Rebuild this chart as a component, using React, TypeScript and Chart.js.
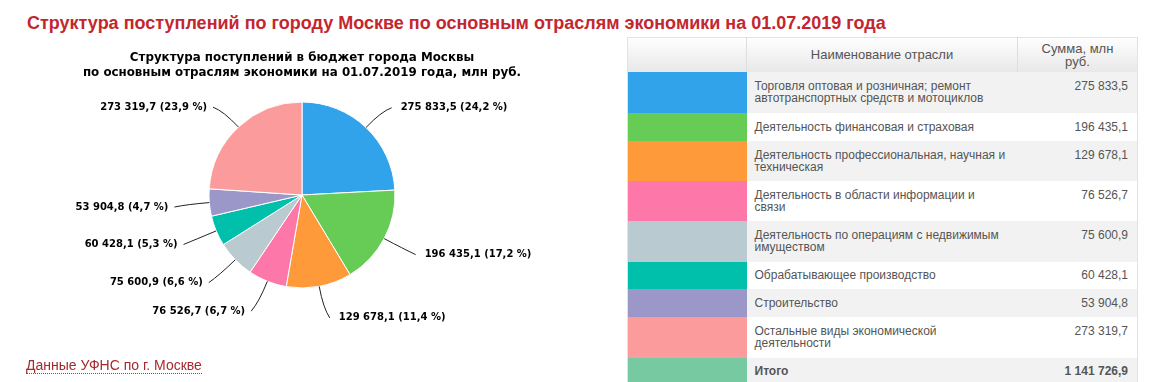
import React, { useEffect, useRef } from "react";
import { Chart, registerables } from "chart.js";

Chart.register(...registerables);

const pageTitle =
  "Структура поступлений по городу Москве по основным отраслям экономики на 01.07.2019 года";
const chartTitleLines = [
  "Структура поступлений в бюджет города Москвы",
  "по основным отраслям экономики на 01.07.2019 года, млн руб.",
];
const categories = [
  "Торговля оптовая и розничная; ремонт автотранспортных средств и мотоциклов",
  "Деятельность финансовая и страховая",
  "Деятельность профессиональная, научная и техническая",
  "Деятельность в области информации и связи",
  "Деятельность по операциям с недвижимым имуществом",
  "Обрабатывающее производство",
  "Строительство",
  "Остальные виды экономической деятельности",
];
const values = [275833.5, 196435.1, 129678.1, 76526.7, 75600.9, 60428.1, 53904.8, 273319.7];
const colors = [
  "#31a3eb",
  "#66cc55",
  "#ff9a3b",
  "#fd78a9",
  "#b9cad1",
  "#00bfab",
  "#9b98c9",
  "#fc9b9b",
];
const totalName = "Итого";
const totalColor = "#76c9a1";
const headerNameText = "Наименование отрасли";
const headerValueLines = ["Сумма, млн", "руб."];
const sourceText = "Данные УФНС по г. Москве";

const rowHeights = [41, 28, 40, 40, 41, 27, 28, 41];

function fmt(v: number): string {
  const [i, d] = v.toFixed(1).split(".");
  return i.replace(/\B(?=(\d{3})+(?!\d))/g, " ") + "," + d;
}

const pieLabels = {
  id: "pieLabels",
  afterDatasetsDraw(chart: any) {
    const ctx = chart.ctx as CanvasRenderingContext2D;
    const meta = chart.getDatasetMeta(0);
    const data = chart.data.datasets[0].data as number[];
    const total = data.reduce((a, b) => a + b, 0);
    ctx.save();
    ctx.font = "bold 10px 'DejaVu Sans'";
    ctx.textBaseline = "middle";
    ctx.strokeStyle = "#222";
    ctx.lineWidth = 1;
    meta.data.forEach((arc: any, i: number) => {
      const { x, y, startAngle, endAngle, outerRadius } = arc.getProps(
        ["x", "y", "startAngle", "endAngle", "outerRadius"],
        true
      );
      const mid = (startAngle + endAngle) / 2;
      const c = Math.cos(mid);
      const s = Math.sin(mid);
      const px = x + outerRadius * c;
      const py = y + outerRadius * s;
      const ax = x + (outerRadius + 30) * c;
      const ay = y + (outerRadius + 30) * s + 2;
      const right = c >= 0;
      const ex = ax + (right ? 5 : -5);
      let t = Math.abs(s) > 0.01 ? (ay - py) / s : 22;
      t = Math.max(0, Math.min(22, t));
      const qx = px + t * c;
      const qy = py + t * s;
      ctx.beginPath();
      ctx.moveTo(px, py);
      ctx.quadraticCurveTo(qx, qy, ex, ay);
      ctx.stroke();
      const pct = ((data[i] / total) * 100).toFixed(1).replace(".", ",");
      const text = fmt(data[i]) + " (" + pct + " %)";
      ctx.fillStyle = "#000";
      ctx.textAlign = right ? "left" : "right";
      ctx.fillText(text, right ? ax + 14 : ax - 11, ay);
    });
    ctx.restore();
  },
  afterDraw(chart: any) {
    const ctx = chart.ctx as CanvasRenderingContext2D;
    const area = chart.chartArea;
    const cx = (area.left + area.right) / 2;
    ctx.save();
    ctx.font = "bold 11.85px 'DejaVu Sans'";
    ctx.fillStyle = "#000";
    ctx.textAlign = "center";
    ctx.textBaseline = "middle";
    chartTitleLines.forEach((line, i) => {
      ctx.fillText(line, cx, 58 + i * 15);
    });
    ctx.restore();
  },
};

function PieChart() {
  const ref = useRef<HTMLCanvasElement | null>(null);
  useEffect(() => {
    if (!ref.current) return;
    const chart = new Chart(ref.current, {
      type: "pie",
      data: {
        labels: categories,
        datasets: [
          {
            data: values,
            backgroundColor: colors,
            borderColor: "#ffffff",
            borderWidth: 1,
            hoverOffset: 0,
            radius: 93,
          } as any,
        ],
      },
      options: {
        responsive: false,
        animation: false,
        layout: { padding: { left: 100, right: 116, top: 100, bottom: 92 } },
        plugins: {
          legend: { display: false },
          tooltip: { enabled: false },
          title: { display: false },
        },
      },
      plugins: [pieLabels],
    });
    return () => chart.destroy();
  }, []);
  return (
    <canvas
      ref={ref}
      width={620}
      height={382}
      style={{ position: "absolute", left: 0, top: 0, width: 620, height: 382 }}
    />
  );
}

export default function App() {
  const total = values.reduce((a, b) => a + b, 0);
  const font = "'Liberation Sans', Arial, sans-serif";
  const cellName: React.CSSProperties = {
    padding: "0 12px 0 8px",
    verticalAlign: "middle",
    lineHeight: "12px",
  };
  const cellVal: React.CSSProperties = {
    padding: "0 9px 0 4px",
    verticalAlign: "top",
    textAlign: "right",
    lineHeight: "12px",
  };
  return (
    <div
      style={{
        position: "absolute",
        left: 0,
        top: 0,
        width: 1150,
        height: 382,
        background: "#ffffff",
        overflow: "hidden",
      }}
    >
      <div
        style={{
          position: "absolute",
          left: 27,
          top: 13,
          fontFamily: font,
          fontWeight: "bold",
          fontSize: 18,
          lineHeight: "20px",
          color: "#c4262e",
          whiteSpace: "nowrap",
        }}
      >
        {pageTitle}
      </div>
      <PieChart />
      <div
        style={{
          position: "absolute",
          left: 26,
          top: 357,
          fontFamily: font,
          fontSize: 14,
          lineHeight: "16px",
          color: "#a52a30",
          borderBottom: "1px dotted #c0303a",
          whiteSpace: "nowrap",
        }}
      >
        {sourceText}
      </div>
      <table
        style={{
          position: "absolute",
          left: 627,
          top: 37,
          width: 510,
          borderCollapse: "collapse",
          tableLayout: "fixed",
          fontFamily: font,
          fontSize: 12,
          color: "#555",
          border: "1px solid #e3e3e3",
        }}
      >
        <colgroup>
          <col style={{ width: 119 }} />
          <col style={{ width: 271 }} />
          <col style={{ width: 120 }} />
        </colgroup>
        <thead>
          <tr
            style={{
              height: 34,
              background: "linear-gradient(#fefefe, #e8e8e8)",
            }}
          >
            <th style={{ borderRight: "1px solid #dedede" }}></th>
            <th
              style={{
                fontWeight: "normal",
                fontSize: 13,
                textAlign: "center",
                borderRight: "1px solid #dedede",
                lineHeight: "13px",
              }}
            >
              {headerNameText}
            </th>
            <th
              style={{
                fontWeight: "normal",
                fontSize: 13,
                textAlign: "center",
                lineHeight: "13px",
              }}
            >
              {headerValueLines.map((l, i) => (
                <div key={i}>{l}</div>
              ))}
            </th>
          </tr>
        </thead>
        <tbody>
          {categories.map((name, i) => (
            <tr
              key={i}
              style={{
                height: rowHeights[i],
                background: i % 2 === 0 ? "#f2f2f2" : "#ffffff",
              }}
            >
              <td style={{ background: colors[i], padding: 0 }}></td>
              <td style={cellName}>{name}</td>
              <td
                style={{
                  ...cellVal,
                  paddingTop: rowHeights[i] > 30 ? 8 : 0,
                  verticalAlign: rowHeights[i] > 30 ? "top" : "middle",
                }}
              >
                {fmt(values[i])}
              </td>
            </tr>
          ))}
          <tr style={{ height: 28, background: "#f2f2f2" }}>
            <td style={{ background: totalColor, padding: 0 }}></td>
            <td style={{ ...cellName, fontWeight: "bold" }}>{totalName}</td>
            <td style={{ ...cellVal, verticalAlign: "middle", fontWeight: "bold" }}>
              {fmt(total)}
            </td>
          </tr>
        </tbody>
      </table>
    </div>
  );
}
